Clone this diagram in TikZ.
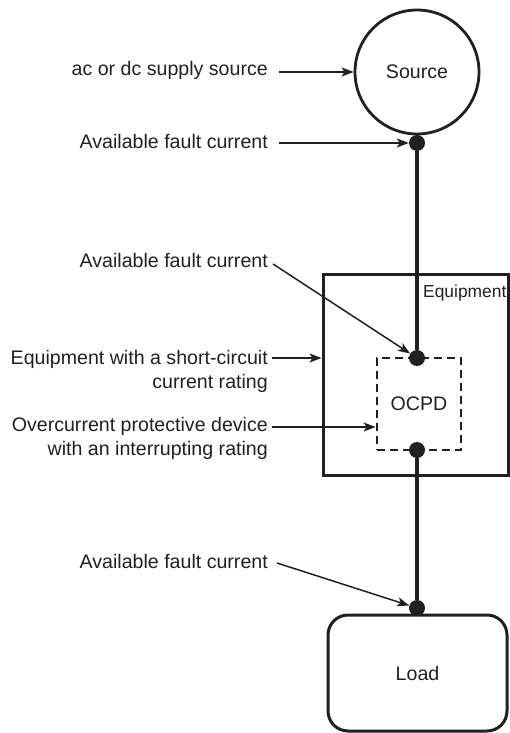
\documentclass[tikz,border=0pt]{standalone}
\usepackage{fontspec}
\setmainfont{Liberation Sans}
\usetikzlibrary{arrows.meta}
\definecolor{ink}{RGB}{35,31,32}
\begin{document}
\begin{tikzpicture}[x=1pt,y=-1pt,
  every node/.style={text=ink},
  lab/.style={font=\fontsize{19.6}{24}\selectfont, inner sep=0pt, align=right},
  big/.style={font=\fontsize{19.6}{24}\selectfont},
  ptr/.style={draw=ink, line width=1.5pt, -{Stealth[length=12pt,width=9pt,inset=3pt]}},
  wire/.style={draw=ink, line width=4.5pt},
  dot/.style={circle, fill=ink, inner sep=0pt, minimum size=16pt},
  frame/.style={draw=ink, line width=3pt, inner sep=0pt},
]
\useasboundingbox (0,0) rectangle (509,733);

% main blocks
\node[frame, circle, line width=2.8pt, minimum size=124pt, big] (src) at (417,72) {Source};
\node[frame, minimum width=185pt, minimum height=201pt] (eq) at (415.5,374.5) {};
\node[anchor=base west, inner sep=0pt, font=\fontsize{17.4}{20}\selectfont] (eqlab) at (423,297) {Equipment};
\node[frame, dash pattern=on 8pt off 5pt, line width=2.8pt, minimum width=84pt, minimum height=92pt, big] (ocpd) at (419,404) {OCPD};
\node[frame, rounded corners=20pt, minimum width=179pt, minimum height=116pt, big] (load) at (417.5,673) {Load};

% junction dots
\node[dot] (d1) at (417,143) {};
\node[dot] (d2) at (417,358) {};
\node[dot] (d3) at (417,450) {};
\node[dot] (d4) at (417,608) {};

% wires
\draw[wire] (d1) -- (d2);
\draw[wire] (d3) -- (d4);

% labels
\node[lab, anchor=base east] (la) at (268,76) {ac or dc supply source};
\node[lab, anchor=base east] (l1) at (268,148) {Available fault current};
\node[lab, anchor=base east] (l2) at (268,267) {Available fault current};
\node[lab, anchor=base east] (le) at (268,388) {Equipment with a short-circuit\\current rating};
\node[lab, anchor=base east] (lo) at (268,455) {Overcurrent protective device\\with an interrupting rating};
\node[lab, anchor=base east] (l3) at (268,568) {Available fault current};

% pointers
\draw[ptr] ([shift={(11,-4)}]la.base east) -- (src.west);
\draw[ptr] ([shift={(11,-5)}]l1.base east) -- (d1.west);
\draw[ptr] ([shift={(5,-3)}]l2.base east) -- (d2);
\coordinate (ae) at ([shift={(4,-30)}]le.base east);
\draw[ptr] (ae) -- (ae -| eq.west);
\coordinate (ao) at ([shift={(4,-28)}]lo.base east);
\draw[ptr] (ao) -- (ao -| ocpd.west);
\draw[ptr] ([shift={(9,-5)}]l3.base east) -- (d4);
\end{tikzpicture}
\end{document}
